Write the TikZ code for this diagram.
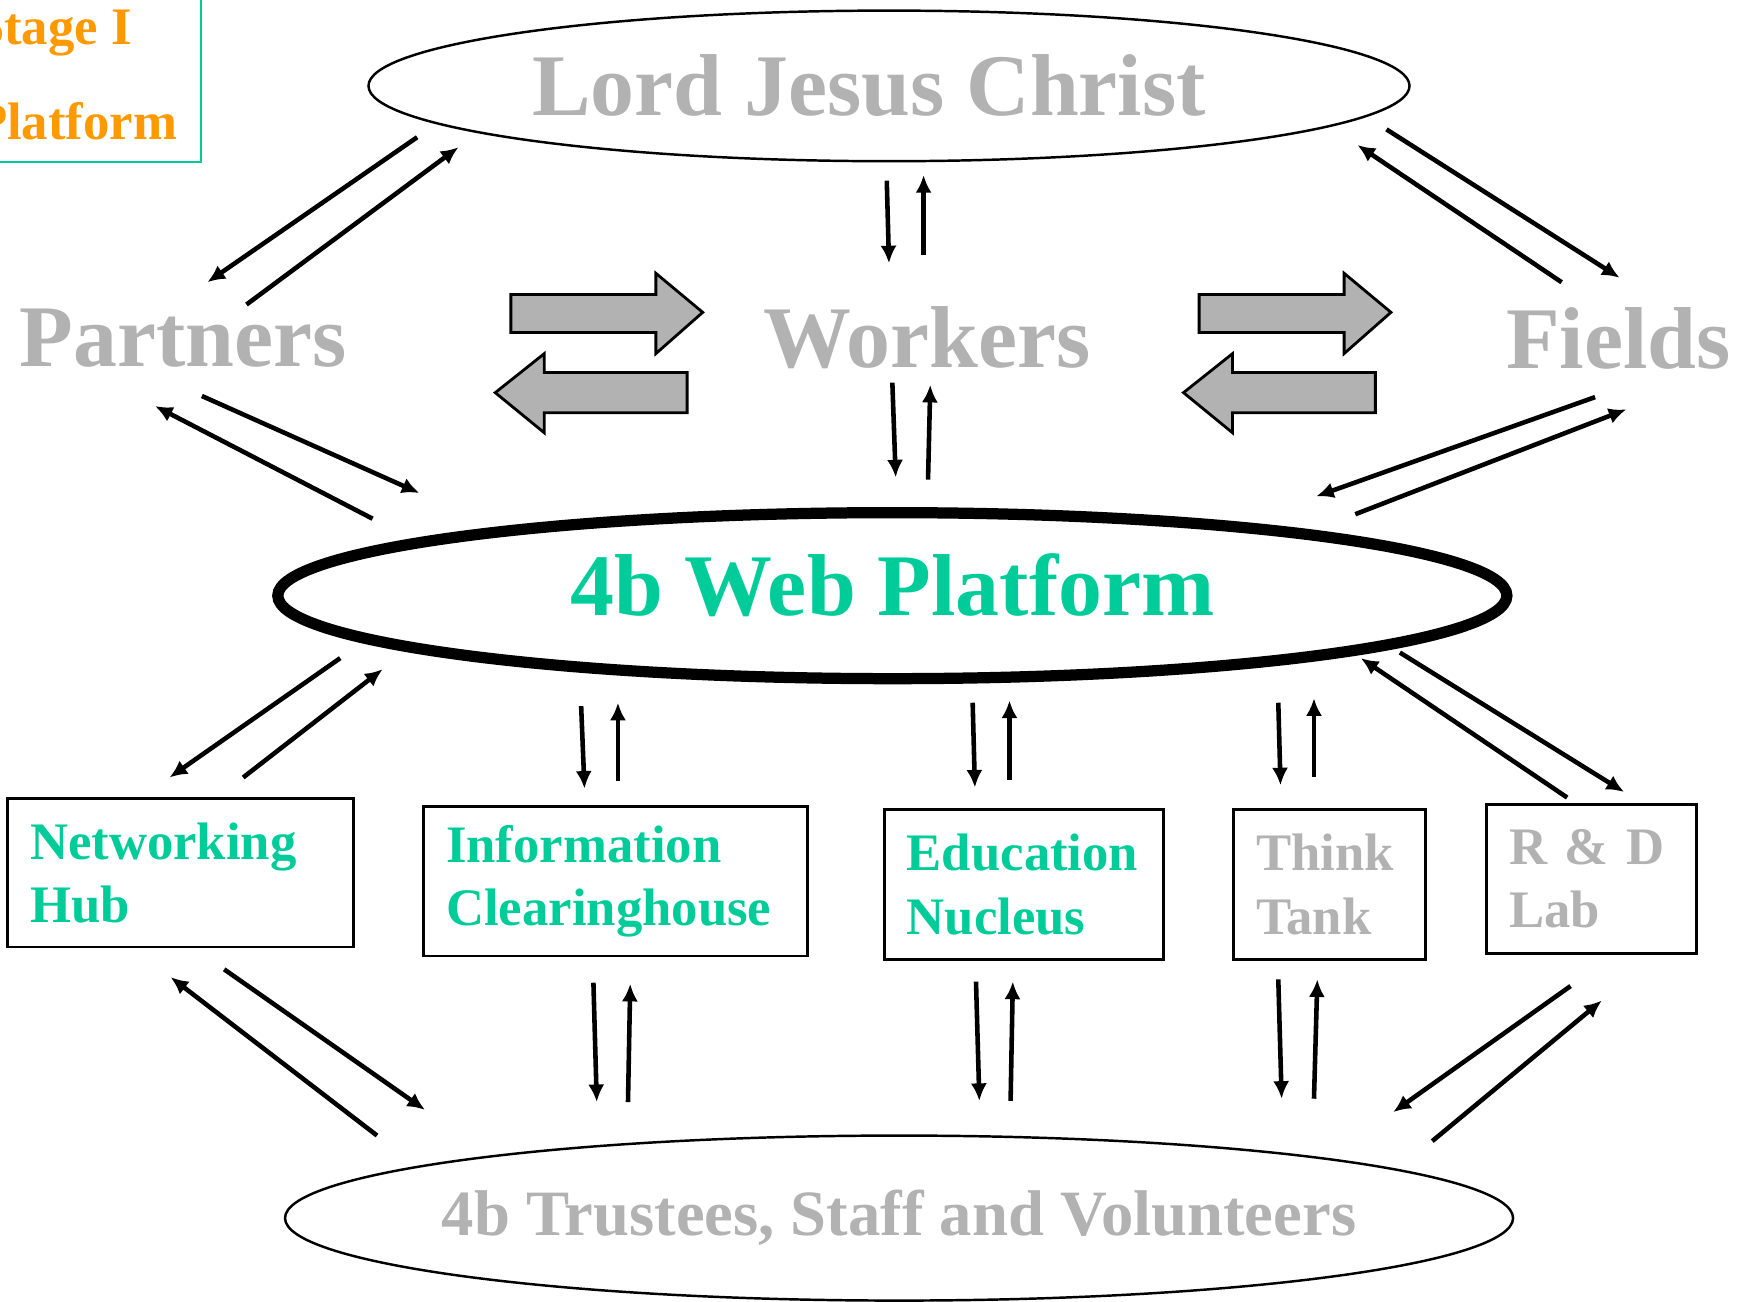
\documentclass[tikz,border=0pt]{standalone}
\usepackage{fontspec}
\setmainfont{Liberation Serif}
\usetikzlibrary{arrows.meta, shapes.geometric}
\definecolor{webgreen}{HTML}{00CC99}
\definecolor{stageorange}{HTML}{FF9900}
\definecolor{softgray}{HTML}{B2B2B2}

\begin{document}
\begin{tikzpicture}[
  x=0.011154cm, y=-0.011154cm,
  bigfont/.style   = {font=\fontsize{25}{30}\selectfont\bfseries},
  ovalnode/.style  = {draw, ellipse, line width=0.7pt, inner sep=0pt},
  titlenode/.style = {bigfont, text=softgray, inner sep=0pt},
  unitnode/.style  = {draw, line width=0.8pt, align=left,
                      inner xsep=0.223cm, inner ysep=0pt,
                      minimum height=1.495cm,
                      font=\fontsize{15}{18}\selectfont\bfseries},
  stagebox/.style  = {draw=webgreen, line width=0.6pt},
  stagetext/.style = {anchor=base west, inner sep=0pt, text=stageorange,
                      font=\fontsize{15}{18}\selectfont\bfseries},
  arr/.style       = {-{Latex[length=5pt, width=4.6pt]}, line width=1.3pt},
  blockarr/.style  = {draw, line width=0.8pt, fill=softgray},
]
\useasboundingbox (0,0) rectangle (1568,1167);
\clip (0,0) rectangle (1568,1167);

% =============================================
% STAGE TAG (top left corner)
% =============================================
\node[stagebox, anchor=south east, minimum width=3.2cm,
      minimum height=2.2cm] (stage) at (180.8,146.5) {};
\node[stagetext] (stagename) at (-23,39.7)  {Stage I};
\node[stagetext] (stageplat) at (-23,125.5) {Platform};

% =============================================
% OVALS
% =============================================
\node[ovalnode, minimum width=10.41cm, minimum height=1.506cm,
      label={[titlenode, xshift=-0.2cm]center:Lord Jesus Christ}]
      (lord) at (797,77) {};
\node[ovalnode, line width=3.2pt, minimum width=12.29cm, minimum height=1.66cm,
      label={[bigfont, text=webgreen, yshift=0.1cm]center:4b Web Platform}]
      (web) at (800,534) {};
\node[ovalnode, minimum width=12.28cm, minimum height=1.65cm,
      label={[font=\fontsize{18.4}{22}\selectfont\bfseries, text=softgray]%
             center:{4b Trustees, Staff and Volunteers}}]
      (team) at (806,1092) {};

% =============================================
% MIDDLE ROW
% =============================================
\node[titlenode] (partners) at (164,303)  {Partners};
\node[titlenode] (workers)  at (831,303)  {Workers};
\node[titlenode] (fields)   at (1451,303) {Fields};

% block arrows between the middle row
\foreach \dx in {0,617} {
  \draw[blockarr] (458+\dx,264) -- (588+\dx,264) -- (588+\dx,245)
      -- (630+\dx,280) -- (588+\dx,317) -- (588+\dx,298)
      -- (458+\dx,298) -- cycle;
  \draw[blockarr] (616+\dx,334) -- (488+\dx,334) -- (488+\dx,317)
      -- (444+\dx,352) -- (488+\dx,388) -- (488+\dx,370)
      -- (616+\dx,370) -- cycle;
}

% =============================================
% UNITS ROW
% =============================================
\node[unitnode, text=webgreen, minimum width=3.458cm, text width=3.012cm,
      minimum height=1.483cm] (hub) at (162,782.5) {Networking\\Hub};
\node[unitnode, text=webgreen, minimum width=3.837cm, text width=3.391cm]
      (info) at (552,790) {Information\\Clearinghouse};
\node[unitnode, text=webgreen, minimum width=2.789cm, text width=2.343cm]
      (edu) at (918,793) {Education\\Nucleus};
\node[unitnode, text=softgray, minimum width=1.918cm, text width=1.472cm]
      (think) at (1192,793) {Think\\Tank};
\node[unitnode, text=softgray, minimum width=2.097cm, text width=1.651cm]
      (lab) at (1427,788) {R \& D\\Lab};

% =============================================
% TWO-WAY ARROWS
% =============================================
\foreach \a/\b [count=\i] in {
    {374,123}/{186,253},   {221,273}/{411,132},
    {795,162}/{797,236},   {828,229}/{828,157},
    {1400,253}/{1217,130}, {1243,116}/{1452,249},
    {181,355}/{376,442},   {334,465}/{139,364},
    {800,343}/{803,428},   {832,430}/{834,345},
    {1430,356}/{1180,445}, {1215,461}/{1458,367},
    {305,590}/{152,697},   {218,697}/{343,600},
    {521,633}/{524,707},   {554,700}/{554,630},
    {872,630}/{874,706},   {905,699}/{905,628},
    {1146,630}/{1148,704}, {1178,697}/{1178,626},
    {1405,715}/{1220,590}, {1255,585}/{1456,710},
    {201,869}/{381,995},   {338,1018}/{153,876},
    {532,881}/{535,988},   {563,988}/{565,882},
    {875,880}/{878,987},   {906,987}/{908,880},
    {1146,878}/{1149,985}, {1178,985}/{1181,878},
    {1408,884}/{1249,997}, {1284,1023}/{1436,897}} {
  \coordinate (from\i) at (\a);
  \coordinate (to\i)   at (\b);
  \draw[arr] (from\i) -- (to\i);
}

\end{tikzpicture}
\end{document}
